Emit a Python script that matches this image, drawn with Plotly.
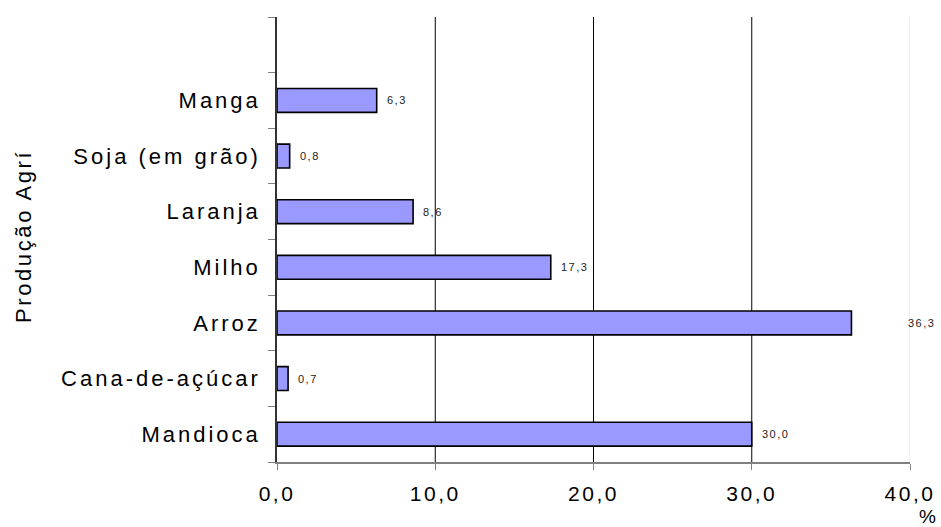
import plotly.graph_objects as go

categories = ["Mandioca", "Cana-de-açúcar", "Arroz", "Milho", "Laranja", "Soja (em grão)", "Manga", " "]
values = [30.0, 0.7, 36.3, 17.3, 8.6, 0.8, 6.3, None]
x_ticks = [0, 10, 20, 30, 40]
x_tick_labels = ["0,0", "10,0", "20,0", "30,0", "40,0"]
label_shift = [8, 8, 55, 8, 8, 8, 8, 0]

FONT = "Liberation Sans, Arial, sans-serif"


def spaced(t, px):
    return f'<span style="letter-spacing:{px}px">{t}</span>'


fig = go.Figure()
fig.add_trace(go.Bar(
    y=categories, x=values, orientation="h",
    marker=dict(color="#9999FF", line=dict(color="black", width=1.6)),
    width=0.43, hoverinfo="skip",
))

for cat, v, s in zip(categories, values, label_shift):
    if v is None:
        continue
    fig.add_annotation(
        x=v, y=cat, xref="x", yref="y",
        text=spaced(f"{v:.1f}".replace(".", ","), 1.5),
        showarrow=False, xanchor="left", xshift=s,
        font=dict(family=FONT, size=11, color="#222"),
    )

grid_colors = {10: "black", 20: "black", 30: "black", 40: "#dddddd"}
for gx, c in grid_colors.items():
    fig.add_shape(type="line", xref="x", yref="paper", x0=gx, x1=gx, y0=0, y1=1,
                  line=dict(color=c, width=1), layer="below")

fig.add_annotation(text=spaced("Produção Agrí", 2.6), xref="paper", yref="paper",
                   x=(23 - 277) / 633, y=(462 - 237) / 445, textangle=-90,
                   showarrow=False, xanchor="center", yanchor="middle",
                   font=dict(family=FONT, size=22, color="black"))
fig.add_annotation(text=spaced("%", 2), xref="paper", yref="paper",
                   x=(928 - 277) / 633, y=-(516 - 462) / 445, showarrow=False,
                   xanchor="center", yanchor="middle",
                   font=dict(family=FONT, size=19, color="black"))

fig.update_layout(
    width=941, height=527,
    margin=dict(l=277, r=31, t=17, b=65),
    paper_bgcolor="white", plot_bgcolor="white",
    showlegend=False,
    font=dict(family=FONT, size=22, color="black"),
    xaxis=dict(
        range=[0, 40], tickvals=x_ticks,
        ticktext=[spaced(t, 2.5) for t in x_tick_labels],
        showgrid=False, zeroline=False, automargin=False,
        showline=True, linecolor="#808080", linewidth=1.5,
        ticks="outside", ticklen=6, tickcolor="#808080",
        ticklabelstandoff=6,
        tickfont=dict(family=FONT, size=21, color="black"),
    ),
    yaxis=dict(
        type="category", categoryorder="array", categoryarray=categories,
        range=[-0.5, 7.5], tickson="boundaries",
        tickvals=categories, ticktext=[spaced(c, 3) for c in categories],
        showgrid=False, zeroline=False, automargin=False,
        showline=True, linecolor="#333333", linewidth=1.5,
        ticks="outside", ticklen=7, tickcolor="#808080",
        ticklabelstandoff=10,
        tickfont=dict(family=FONT, size=22, color="black"),
    ),
    bargap=0.57,
)

fig.write_html("out.html")
